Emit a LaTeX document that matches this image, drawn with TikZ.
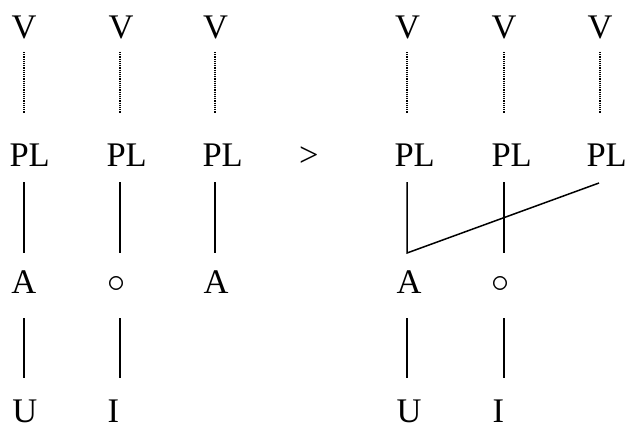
\documentclass[tikz,border=0pt]{standalone}
\usepackage{fontspec}
\usepackage{graphicx}
\setmainfont{Liberation Serif}
\newcommand{\bigempty}{\scalebox{1.45}{$\circ$}}
\begin{document}
\begin{tikzpicture}[x=1pt,y=-1pt,
  lbl/.style={anchor=base west,inner sep=0pt,outer sep=0pt,font=\fontsize{34.5}{40}\selectfont},
  lblc/.style={anchor=base,inner sep=0pt,outer sep=0pt,font=\fontsize{34.5}{40}\selectfont},
  emp/.style={anchor=base,inner sep=0pt,outer sep=0pt,font=\fontsize{24.88}{30}\selectfont},
  dotline/.style={line width=1.1pt,dash pattern=on 1.1pt off 1.1pt},
  assoc/.style={line width=1.5pt}]
\useasboundingbox (0,0) rectangle (626,424);
% left configuration
\node[lblc] (v1) at (24,38) {V};
\node[lblc] (v2) at (121,38) {V};
\node[lblc] (v3) at (215.5,38) {V};
\node[lbl] (p1) at (9.5,166) {PL};
\node[lbl] (p2) at (106.5,166) {PL};
\node[lbl] (p3) at (202.5,166) {PL};
\node[lbl] (a1) at (11.5,293) {A};
\node[emp] (o2) at (117,292) {\bigempty};
\node[lbl] (a3) at (203.5,293) {A};
\node[lbl] (u1) at (12.5,422) {U};
\node[lbl] (i2) at (107.5,422) {I};
\node[lbl] (gt) at (299,166) {>};
% right configuration
\node[lblc] (v4) at (407.5,38) {V};
\node[lblc] (v5) at (504,38) {V};
\node[lblc] (v6) at (600,38) {V};
\node[lbl] (p4) at (394.5,166) {PL};
\node[lbl] (p5) at (491.5,166) {PL};
\node[lbl] (p6) at (586.5,166) {PL};
\node[lbl] (a4) at (396.5,293) {A};
\node[emp] (o5) at (501,292) {\bigempty};
\node[lbl] (u4) at (396.5,422) {U};
\node[lbl] (i5) at (492.5,422) {I};
% dotted V--PL links
\foreach \x in {24,120,215,407,504,600}{
  \draw[dotline] (\x,52) -- (\x,113);
}
% solid PL--A links
\foreach \x in {24,120,215,504}{
  \draw[assoc] (\x,182) -- (\x,253);
}
\draw[assoc] (407,182) -- (407,253) -- (599,183);
% solid A--U links
\foreach \x in {24,120,407,504}{
  \draw[assoc] (\x,318) -- (\x,378);
}
\end{tikzpicture}
\end{document}
